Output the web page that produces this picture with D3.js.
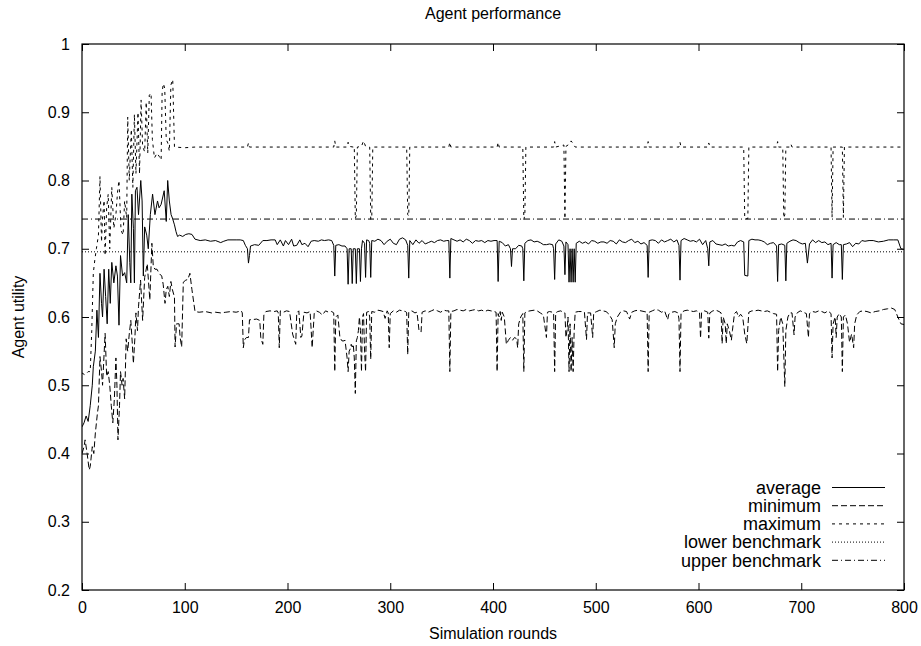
<!DOCTYPE html>
<html lang="en">
<head>
  <meta charset="UTF-8" />
  <title>Agent performance</title>
  <style>
    body {
      margin: 0;
      background-color: #fff;
      font-family: "Liberation Sans", Arial, sans-serif;
    }

    svg text {
      font-size: 16px;
      fill: #000;
    }

    .tick line {
      stroke: #000;
    }

    .series {
      fill: none;
      stroke: #000;
      stroke-width: 1;
    }
  </style>
</head>
<body>
  <svg width="921" height="646"></svg>

  <script src="https://d3js.org/d3.v7.min.js"></script>
  <script>
    // data: [round, utility]
    const average = [
      [0,0.439],[2,0.445],[4,0.455],[6,0.447],[8,0.47],[10,0.50],[11,0.527],[13,0.55],[14.5,0.61],[16,0.57],
      [17.5,0.664],[19,0.62],[20,0.60],[21.5,0.67],[23,0.63],[24.5,0.59],[26,0.67],[27.5,0.62],[29,0.68],[31,0.65],
      [33,0.675],[34.5,0.66],[36,0.588],[37.5,0.69],[39.5,0.66],[41.5,0.665],[43.5,0.65],[45,0.75],[46.5,0.68],[47.5,0.65],
      [48.5,0.78],[50,0.73],[51,0.65],[52,0.785],[53.5,0.79],[55,0.75],[57.2,0.80],[58.5,0.77],[59.7,0.66],[61,0.732],
      [63,0.72],[64.5,0.70],[66.5,0.75],[68.7,0.78],[71,0.75],[73.5,0.77],[75,0.76],[77,0.765],[80,0.785],[82,0.74],
      [83.4,0.80],[85,0.77],[86.7,0.75],[88,0.745],[90,0.735],[91.5,0.725],[93,0.718],[95,0.72],[98,0.718],[101,0.721],
      [104,0.722],[107,0.721],[110,0.714],[115,0.712],[120,0.713],[125,0.711],[130,0.712],[135,0.709],[138,0.711],[142,0.713],
      [146,0.713],[150,0.713],[154,0.713],[157,0.712],[159,0.705],[161,0.70],[162,0.679],[163,0.69],[164,0.704],[168,0.706],
      [172,0.705],[176,0.712],[180,0.712],[184,0.713],[188,0.713],[190,0.706],[193,0.713],[196,0.704],[198,0.712],[201,0.706],
      [204,0.714],[206,0.704],[209,0.705],[212,0.713],[214,0.706],[217,0.708],[220,0.703],[223,0.711],[226,0.712],[230,0.711],
      [233,0.713],[236,0.712],[240,0.713],[243,0.712],[245,0.705],[246,0.66],[247,0.705],[250,0.706],[253,0.704],[256,0.704],
      [258,0.70],[259,0.648],[260,0.70],[262,0.70],[263,0.649],[264,0.70],[266,0.70],[267,0.649],[268,0.70],[270,0.70],
      [271,0.652],[272,0.70],[273,0.712],[275,0.708],[276,0.658],[277,0.713],[279,0.712],[280,0.708],[281,0.658],[282,0.712],
      [285,0.711],[288,0.714],[291,0.712],[294,0.706],[297,0.711],[300,0.714],[303,0.708],[306,0.706],[309,0.714],[312,0.716],
      [315,0.713],[317,0.705],[318,0.657],[319,0.712],[322,0.706],[325,0.713],[328,0.708],[331,0.712],[334,0.707],[337,0.709],
      [340,0.711],[343,0.709],[346,0.712],[349,0.713],[352,0.711],[355,0.712],[357,0.712],[358,0.657],[359,0.715],[362,0.713],
      [365,0.711],[368,0.713],[371,0.710],[374,0.714],[377,0.712],[380,0.708],[383,0.712],[386,0.711],[389,0.712],[392,0.709],
      [395,0.712],[398,0.711],[401,0.712],[404,0.712],[405,0.652],[406,0.711],[409,0.709],[412,0.704],[415,0.706],[417,0.70],
      [418,0.674],[419,0.70],[422,0.70],[425,0.705],[428,0.704],[429,0.70],[430,0.653],[431,0.708],[434,0.712],[437,0.713],
      [440,0.710],[443,0.711],[446,0.709],[449,0.706],[452,0.706],[455,0.707],[458,0.706],[459,0.70],[460,0.655],[461,0.707],
      [464,0.713],[467,0.711],[469,0.704],[470,0.662],[471,0.71],[473,0.706],[474,0.651],[475,0.70],[476,0.651],[477,0.70],
      [478,0.651],[479,0.70],[480,0.651],[481,0.708],[484,0.711],[487,0.708],[490,0.710],[493,0.707],[496,0.712],[499,0.711],
      [502,0.708],[505,0.710],[508,0.710],[511,0.708],[514,0.712],[517,0.711],[520,0.707],[523,0.713],[526,0.710],[529,0.709],
      [532,0.712],[535,0.714],[538,0.709],[541,0.711],[544,0.707],[547,0.709],[550,0.705],[551,0.658],[552,0.712],[555,0.713],
      [558,0.712],[561,0.708],[564,0.713],[567,0.710],[570,0.712],[573,0.714],[576,0.710],[579,0.713],[581,0.705],[582,0.654],
      [583,0.712],[586,0.715],[589,0.713],[592,0.711],[595,0.712],[598,0.710],[601,0.714],[604,0.706],[607,0.712],[609,0.70],
      [610,0.675],[611,0.71],[614,0.712],[617,0.707],[620,0.706],[623,0.705],[626,0.707],[629,0.704],[632,0.705],[635,0.704],
      [638,0.710],[641,0.712],[644,0.710],[645,0.661],[648,0.66],[649,0.712],[652,0.714],[655,0.713],[658,0.713],[661,0.712],
      [664,0.710],[667,0.706],[670,0.708],[673,0.709],[676,0.704],[677,0.652],[678,0.706],[681,0.707],[684,0.705],[685,0.653],
      [686,0.708],[689,0.711],[692,0.713],[695,0.712],[698,0.709],[701,0.707],[704,0.708],[706,0.679],[708,0.707],[711,0.713],
      [714,0.709],[717,0.712],[720,0.709],[723,0.710],[726,0.706],[729,0.708],[730,0.657],[731,0.706],[734,0.709],[737,0.706],
      [739,0.706],[740,0.655],[741,0.706],[744,0.707],[747,0.709],[750,0.703],[753,0.708],[756,0.707],[759,0.712],[762,0.711],
      [766,0.712],[770,0.712],[775,0.710],[780,0.711],[785,0.713],[790,0.713],[794,0.713],[797,0.700],[800,0.699]
    ];

    const minimum = [
      [0,0.40],[2,0.41],[3,0.42],[5,0.40],[7,0.376],[8,0.381],[10,0.41],[11.5,0.40],[13,0.43],[15,0.459],
      [16,0.47],[17.5,0.542],[19,0.52],[20,0.50],[22.5,0.576],[24,0.513],[25.5,0.52],[27,0.50],[28.5,0.47],[30,0.445],
      [31.5,0.48],[33,0.54],[34,0.50],[35,0.42],[36.5,0.47],[37.5,0.52],[39,0.50],[40,0.51],[41.5,0.48],[43,0.568],
      [44.5,0.55],[46,0.575],[47.5,0.595],[49,0.56],[50,0.532],[51.5,0.57],[52.5,0.606],[54,0.58],[55,0.615],[57,0.654],
      [59,0.595],[61,0.658],[63.5,0.678],[66,0.625],[68,0.708],[69.4,0.674],[71,0.67],[73,0.67],[75,0.664],[77.6,0.66],
      [79,0.648],[80.8,0.62],[82,0.64],[83.5,0.645],[85,0.63],[86.5,0.652],[88,0.64],[90,0.629],[90.6,0.556],[92,0.59],
      [94.5,0.59],[95.5,0.57],[97,0.556],[98.6,0.651],[101,0.654],[103,0.655],[105,0.664],[107,0.64],[108.4,0.625],[110,0.608],
      [114,0.607],[120,0.608],[126,0.606],[130,0.607],[135,0.606],[140,0.607],[145,0.608],[150,0.607],[155,0.609],[156,0.606],
      [157,0.555],[158,0.566],[160,0.57],[162,0.57],[163,0.596],[165,0.596],[170,0.597],[173,0.595],[174,0.57],[176,0.56],
      [177,0.603],[179,0.608],[183,0.609],[187,0.608],[190,0.609],[191,0.606],[192,0.555],[193,0.609],[196,0.607],[199,0.609],
      [202,0.608],[205,0.575],[206,0.57],[208,0.56],[209,0.606],[211,0.609],[213,0.57],[214,0.572],[216,0.607],[219,0.606],
      [222,0.608],[224,0.555],[226,0.605],[228,0.609],[231,0.607],[234,0.603],[237,0.609],[240,0.607],[243,0.608],[245,0.606],
      [246,0.52],[247,0.60],[249,0.603],[251,0.57],[253,0.565],[255,0.565],[256,0.566],[258,0.54],[259,0.52],[260,0.55],
      [261,0.553],[262,0.56],[263,0.556],[264,0.56],[265,0.54],[266,0.488],[267,0.565],[268,0.57],[269,0.58],[270,0.60],
      [271,0.58],[272,0.52],[273,0.60],[274,0.605],[275,0.55],[276,0.52],[277,0.607],[279,0.608],[280,0.60],[281,0.538],
      [282,0.608],[285,0.607],[288,0.610],[291,0.609],[293,0.608],[295,0.598],[297,0.609],[298,0.606],[299,0.555],[300,0.605],
      [303,0.609],[306,0.607],[309,0.610],[312,0.609],[315,0.608],[316,0.606],[317,0.545],[318,0.607],[321,0.609],[324,0.606],
      [326,0.607],[327,0.594],[328,0.58],[330,0.578],[331,0.607],[334,0.609],[337,0.607],[340,0.609],[343,0.611],[346,0.609],
      [349,0.607],[352,0.610],[355,0.609],[357,0.609],[358,0.52],[359,0.608],[362,0.609],[365,0.611],[368,0.610],[371,0.609],
      [374,0.611],[377,0.609],[380,0.610],[383,0.611],[386,0.609],[389,0.610],[392,0.608],[395,0.610],[398,0.609],[401,0.608],
      [403,0.607],[404,0.52],[405,0.605],[406,0.60],[407,0.608],[408,0.595],[409,0.607],[411,0.60],[413,0.56],[415,0.566],
      [417,0.57],[419,0.566],[421,0.57],[423,0.568],[424,0.555],[425,0.59],[427,0.60],[429,0.605],[430,0.52],[431,0.606],
      [433,0.608],[436,0.609],[440,0.610],[443,0.609],[446,0.606],[449,0.603],[452,0.57],[453,0.607],[455,0.608],[458,0.607],
      [459,0.606],[460,0.52],[461,0.606],[463,0.608],[466,0.609],[469,0.606],[470,0.606],[471,0.57],[472,0.58],[473,0.60],
      [474,0.52],[475,0.59],[476,0.52],[477,0.57],[478,0.52],[479,0.58],[480,0.607],[483,0.608],[486,0.608],[489,0.607],
      [491,0.567],[492,0.606],[495,0.606],[497,0.57],[498,0.606],[501,0.608],[504,0.610],[507,0.609],[510,0.608],[513,0.604],
      [516,0.596],[518,0.555],[519,0.59],[521,0.60],[524,0.607],[527,0.609],[530,0.608],[533,0.597],[535,0.607],[538,0.609],
      [541,0.610],[544,0.609],[547,0.608],[550,0.607],[551,0.52],[552,0.607],[555,0.609],[558,0.611],[561,0.610],[564,0.607],
      [567,0.609],[570,0.596],[571,0.604],[574,0.607],[577,0.608],[580,0.606],[581,0.597],[582,0.52],[583,0.606],[586,0.609],
      [589,0.610],[592,0.609],[595,0.608],[598,0.609],[601,0.607],[602,0.569],[603,0.607],[606,0.609],[609,0.607],[610,0.569],
      [611,0.606],[614,0.609],[617,0.610],[620,0.608],[622,0.606],[623,0.561],[624,0.60],[626,0.59],[627,0.561],[628,0.59],
      [630,0.58],[632,0.566],[633,0.58],[635,0.605],[637,0.608],[639,0.600],[641,0.604],[643,0.600],[645,0.575],[647,0.561],
      [649,0.607],[652,0.609],[655,0.609],[658,0.610],[661,0.609],[664,0.608],[667,0.609],[670,0.607],[673,0.605],[676,0.604],
      [677,0.52],[678,0.58],[680,0.60],[682,0.59],[684,0.498],[685,0.58],[687,0.60],[689,0.606],[691,0.606],[693,0.574],
      [694,0.60],[696,0.606],[699,0.609],[702,0.607],[705,0.605],[707,0.57],[708,0.605],[711,0.608],[714,0.607],[717,0.609],
      [720,0.608],[723,0.606],[726,0.609],[729,0.605],[730,0.54],[731,0.59],[733,0.60],[734,0.57],[735,0.60],[737,0.605],
      [739,0.60],[740,0.52],[741,0.60],[743,0.603],[745,0.59],[747,0.563],[749,0.575],[751,0.555],[752,0.59],[754,0.603],
      [757,0.608],[760,0.609],[764,0.608],[768,0.606],[772,0.608],[776,0.609],[780,0.611],[784,0.612],[788,0.613],[791,0.611],
      [794,0.600],[797,0.590],[800,0.589]
    ];

    const maximum = [
      [0,0.518],[3,0.515],[6,0.52],[8,0.52],[9.5,0.58],[11,0.664],[12.5,0.684],[14,0.70],[16,0.72],[17.5,0.806],
      [19,0.71],[20,0.745],[21.5,0.771],[22.5,0.69],[24,0.76],[25.5,0.78],[27,0.70],[29,0.79],[31,0.73],[33,0.75],
      [34.7,0.785],[36,0.80],[38,0.727],[40,0.72],[41.5,0.77],[43.5,0.745],[44.5,0.893],[46,0.80],[48,0.875],[49.5,0.79],
      [51,0.897],[52.5,0.81],[54.5,0.90],[56,0.81],[57.5,0.918],[59,0.85],[61,0.842],[62.5,0.915],[64,0.84],[65.5,0.925],
      [67.2,0.928],[68.5,0.86],[70.5,0.833],[73,0.84],[75.3,0.835],[77,0.83],[78,0.93],[79.2,0.942],[80.5,0.935],[82,0.86],
      [83.5,0.855],[85,0.843],[86.5,0.94],[88.3,0.948],[90,0.849],[100,0.848],[110,0.849],[130,0.849],[161,0.849],[162,0.855],
      [163,0.849],[200,0.849],[245,0.849],[246,0.858],[247,0.849],[258,0.849],[259,0.856],[260,0.85],[264,0.849],[265,0.85],
      [266,0.744],[267,0.749],[268,0.849],[272,0.85],[274,0.858],[276,0.85],[280,0.849],[281,0.743],[282,0.745],[283,0.849],
      [316,0.849],[317,0.75],[318,0.748],[319,0.849],[357,0.849],[358,0.856],[359,0.849],[404,0.849],[405,0.856],[406,0.849],
      [429,0.849],[430,0.743],[431,0.749],[432,0.849],[459,0.849],[460,0.857],[461,0.849],[469,0.852],[470,0.744],[471,0.85],
      [474,0.853],[476,0.858],[478,0.854],[480,0.849],[550,0.849],[551,0.857],[552,0.849],[581,0.849],[582,0.856],[583,0.849],
      [609,0.849],[610,0.855],[611,0.849],[644,0.849],[645,0.744],[648,0.744],[649,0.849],[676,0.849],[677,0.857],[678,0.849],
      [682,0.849],[683,0.745],[684,0.75],[685,0.849],[689,0.849],[690,0.853],[691,0.849],[729,0.849],[730,0.746],[731,0.849],
      [740,0.849],[741,0.746],[742,0.849],[800,0.849]
    ];

    const lowerBenchmark = 0.6955;
    const upperBenchmark = 0.7435;

    const xTicks = [0, 100, 200, 300, 400, 500, 600, 700, 800];
    const yTicks = [0.2, 0.3, 0.4, 0.5, 0.6, 0.7, 0.8, 0.9, 1];

    const seriesNames = ["average", "minimum", "maximum", "lower benchmark", "upper benchmark"];
    const dashes = ["none", "6,3", "3,4", "1,2", "6,3,1,3"];

    const m = { left: 82, right: 904, top: 44, bottom: 590 };

    const svg = d3.select("svg");

    const x = d3.scaleLinear().domain([0, 800]).range([m.left, m.right]);
    const y = d3.scaleLinear().domain([0.2, 1]).range([m.bottom, m.top]);

    // axes, ticks point inward and are mirrored on the opposite side
    const fmtY = d => d === 1 ? "1" : d3.format(".1f")(d);

    svg.append("g")
      .attr("transform", `translate(0,${m.bottom})`)
      .call(d3.axisBottom(x).tickValues(xTicks).tickSize(-7).tickPadding(12))
      .call(g => g.select(".domain").remove());

    svg.append("g")
      .attr("transform", `translate(0,${m.top})`)
      .call(d3.axisTop(x).tickValues(xTicks).tickSize(-7).tickFormat(""))
      .call(g => g.select(".domain").remove());

    svg.append("g")
      .attr("transform", `translate(${m.left},0)`)
      .call(d3.axisLeft(y).tickValues(yTicks).tickSize(-7).tickPadding(12).tickFormat(fmtY))
      .call(g => g.select(".domain").remove());

    svg.append("g")
      .attr("transform", `translate(${m.right},0)`)
      .call(d3.axisRight(y).tickValues(yTicks).tickSize(-7).tickFormat(""))
      .call(g => g.select(".domain").remove());

    svg.selectAll(".tick text")
      .attr("font-family", "Liberation Sans, Arial, sans-serif")
      .attr("font-size", 17);

    svg.append("defs").append("clipPath").attr("id", "clip")
      .append("rect")
      .attr("x", m.left).attr("y", m.top)
      .attr("width", m.right - m.left).attr("height", m.bottom - m.top);

    const line = d3.line()
      .x(d => x(d[0]))
      .y(d => y(d[1]));

    const plot = svg.append("g").attr("clip-path", "url(#clip)");

    const data = [
      average,
      minimum,
      maximum,
      [[0, lowerBenchmark], [800, lowerBenchmark]],
      [[0, upperBenchmark], [800, upperBenchmark]]
    ];

    plot.selectAll("path.series")
      .data(data)
      .join("path")
      .attr("class", "series")
      .attr("d", line)
      .attr("stroke-dasharray", (d, i) => dashes[i]);

    // frame
    svg.append("rect")
      .attr("x", m.left).attr("y", m.top)
      .attr("width", m.right - m.left).attr("height", m.bottom - m.top)
      .attr("fill", "none")
      .attr("stroke", "#000")
      .attr("stroke-width", 1.2);

    // legend
    const legend = svg.append("g");
    seriesNames.forEach((name, i) => {
      const ly = 487.5 + i * 18.2;
      legend.append("text")
        .attr("x", 821)
        .attr("y", ly)
        .attr("dy", "0.35em")
        .attr("text-anchor", "end")
        .style("font-size", "18px")
        .text(name);
      legend.append("line")
        .attr("class", "series")
        .attr("x1", 832).attr("x2", 885)
        .attr("y1", ly).attr("y2", ly)
        .attr("stroke-dasharray", dashes[i]);
    });

    // titles
    svg.append("text")
      .attr("x", (m.left + m.right) / 2)
      .attr("y", 19)
      .attr("text-anchor", "middle")
      .text("Agent performance");

    svg.append("text")
      .attr("x", (m.left + m.right) / 2)
      .attr("y", 639)
      .attr("text-anchor", "middle")
      .text("Simulation rounds");

    svg.append("text")
      .attr("transform", `translate(24,${(m.top + m.bottom) / 2}) rotate(-90)`)
      .attr("text-anchor", "middle")
      .text("Agent utility");
  </script>
</body>
</html>
